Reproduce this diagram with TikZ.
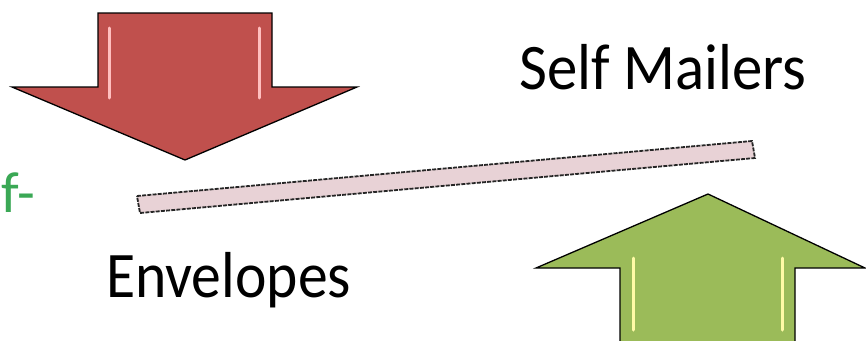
\documentclass[tikz,border=0pt]{standalone}
\usepackage{fontspec}
\setmainfont{Carlito}
\begin{document}
\begin{tikzpicture}[x=1pt,y=-1pt,
  arrowshape/.style={draw=black,line width=1.3pt,line join=miter},
  shine/.style={line width=3pt,line cap=round},
  label/.style={font=\fontsize{65}{70}\selectfont,inner sep=0pt,anchor=base west},
  barstyle/.style={draw=black!85,fill=barpink,line width=1.8pt,dash pattern=on 4pt off 1.2pt}
]
\definecolor{redfill}{RGB}{192,80,77}
\definecolor{greenfill}{RGB}{155,187,89}
\definecolor{barpink}{RGB}{232,210,214}
\definecolor{txtgreen}{RGB}{58,168,85}
\useasboundingbox (0,0) rectangle (866,340);
\begin{scope}
\clip (0,0) rectangle (866,340);
% red arrow down
\filldraw[arrowshape,fill=redfill] (98,13) -- (272,13) -- (272,87) -- (357,87) -- (185,160) -- (12,87) -- (98,87) -- cycle;
\draw[shine,color=red!25!white] (109,28) -- (109,98);
\draw[shine,color=red!25!white] (259,28) -- (259,98);
% green arrow up
\filldraw[arrowshape,fill=greenfill] (620,345) -- (620,268) -- (536,268) -- (708,194) -- (865,268) -- (795,268) -- (795,345) -- cycle;
\draw[shine,color=yellow!35!white] (633,258) -- (633,330);
\draw[shine,color=yellow!35!white] (782,258) -- (782,330);
% bar
\filldraw[barstyle] (137,196) -- (752,141) -- (755,158) -- (140,213) -- cycle;
% texts
\node[label] (self) at (519,89) {\scalebox{0.935}[1]{Self Mailers}};
\node[label] (env) at (106,297) {\scalebox{0.917}[1]{Envelopes}};
\node[label,text=txtgreen,font=\fontsize{58}{62}\selectfont] (frag) at (1,212) {f-};
\end{scope}
\end{tikzpicture}
\end{document}
